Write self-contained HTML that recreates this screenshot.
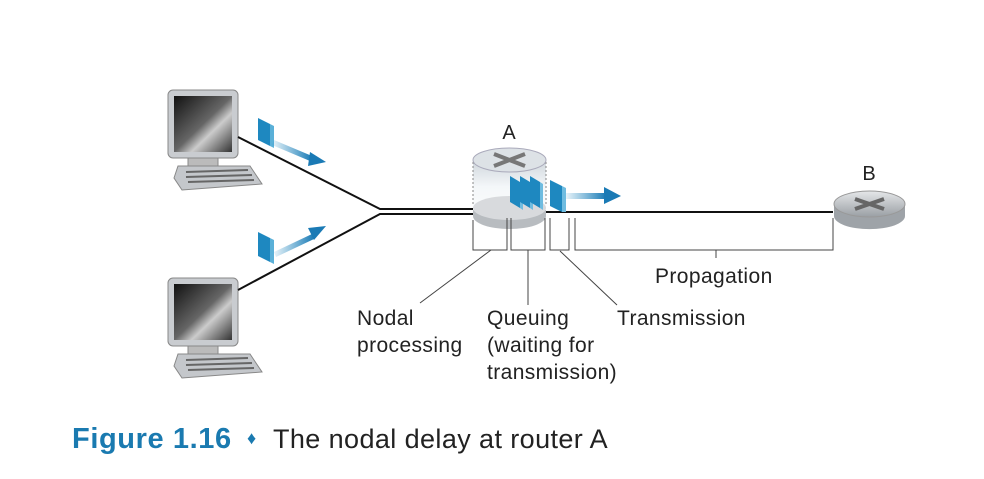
<!DOCTYPE html>
<html><head><meta charset="utf-8"><style>
html,body{margin:0;padding:0;background:#fff;}
svg{display:block}
text{font-family:"Liberation Sans",sans-serif;fill:#222;}
</style></head><body>
<svg width="984" height="479" viewBox="0 0 984 479" xmlns="http://www.w3.org/2000/svg">
<defs>
<linearGradient id="scr" x1="0" y1="0" x2="1" y2="1"><stop offset="0" stop-color="#111"/><stop offset="0.5" stop-color="#666"/><stop offset="0.65" stop-color="#ccc"/><stop offset="1" stop-color="#333"/></linearGradient>
<linearGradient id="arr" x1="0" y1="0" x2="1" y2="0"><stop offset="0" stop-color="#1e88c0" stop-opacity="0.1"/><stop offset="1" stop-color="#1a7ab5"/></linearGradient>
<linearGradient id="cyl" x1="0" y1="0" x2="0" y2="1"><stop offset="0" stop-color="#cfd6dc"/><stop offset="0.4" stop-color="#f4f7f9"/><stop offset="1" stop-color="#fff"/></linearGradient>
<linearGradient id="rb" x1="0" y1="0" x2="0" y2="1"><stop offset="0" stop-color="#e5e7e9"/><stop offset="1" stop-color="#9a9fa4"/></linearGradient>
<g id="pc">
<rect x="0" y="0" width="70" height="68" rx="5" fill="#c9ccd0" stroke="#888" stroke-width="1"/>
<rect x="6" y="6" width="58" height="56" fill="url(#scr)"/>
<rect x="20" y="68" width="30" height="8" fill="#bbb" stroke="#888"/>
<polygon points="10,76 82,76 94,94 14,100 6,88" fill="#c4c7cb" stroke="#888"/>
<line x1="18" y1="82" x2="80" y2="80" stroke="#666" stroke-width="2"/>
<line x1="18" y1="87" x2="84" y2="85" stroke="#666" stroke-width="2"/>
<line x1="20" y1="92" x2="86" y2="90" stroke="#666" stroke-width="2"/>
</g>
</defs>
<use href="#pc" x="168" y="90"/>
<use href="#pc" x="168" y="278"/>
<g stroke="#111" stroke-width="2" fill="none">
<polyline points="238,137 380,209 475,209"/>
<polyline points="238,290 380,214 475,214"/>
<line x1="546" y1="212" x2="833" y2="212"/>
</g>
<polygon points="258,118 270,124 270,146 258,140" fill="#1e88c0"/>
<polygon points="270,124 274,126 274,148 270,146" fill="#5ab0d8"/>
<polygon points="274,140 312,156 310,161 272,145" fill="url(#arr)"/>
<polygon points="310,152 326,162 308,166" fill="#1a7ab5"/>
<polygon points="258,232 270,238 270,262 258,256" fill="#1e88c0"/>
<polygon points="270,238 274,240 274,264 270,262" fill="#5ab0d8"/>
<polygon points="274,252 312,234 314,239 276,257" fill="url(#arr)"/>
<polygon points="308,228 326,226 314,240" fill="#1a7ab5"/>
<path d="M473,160 L473,213 A36.5,14 0 0 0 546,213 L546,160 Z" fill="url(#cyl)"/>
<line x1="473" y1="162" x2="473" y2="205" stroke="#888" stroke-dasharray="2,2"/>
<line x1="546" y1="162" x2="546" y2="205" stroke="#888" stroke-dasharray="2,2"/>
<ellipse cx="509.5" cy="160" rx="36.5" ry="12" fill="#dde2e6" stroke="#aab" stroke-width="1"/>
<path d="M494,154 L525,166 M525,154 L494,166" stroke="#777" stroke-width="4"/>
<path d="M473,210 L473,216 A36.5,13 0 0 0 546,216 L546,210" fill="#b8bcc0"/>
<ellipse cx="509.5" cy="208" rx="36.5" ry="12" fill="#d8dadd"/>
<g>
<polygon points="510,176 520,182 520,208 510,202" fill="#1e88c0"/><polygon points="520,182 523,184 523,210 520,208" fill="#6fbce0"/>
<polygon points="520,176 530,182 530,208 520,202" fill="#1e88c0"/><polygon points="530,182 533,184 533,210 530,208" fill="#6fbce0"/>
<polygon points="530,176 540,182 540,208 530,202" fill="#1e88c0"/><polygon points="540,182 543,184 543,210 540,208" fill="#6fbce0"/>
<polygon points="550,180 562,186 562,212 550,206" fill="#1e88c0"/><polygon points="562,186 566,188 566,212 562,212" fill="#6fbce0"/>
<rect x="566" y="193" width="40" height="6" fill="url(#arr)"/>
<polygon points="604,187 621,196 604,204" fill="#1a7ab5"/>
</g>
<path d="M834,205 L834,216 A35,13 0 0 0 905,216 L905,205 Z" fill="#9ea3a8"/>
<ellipse cx="869.5" cy="204" rx="35.5" ry="13" fill="url(#rb)" stroke="#999"/>
<path d="M855,199 L884,209 M884,199 L855,209" stroke="#666" stroke-width="4"/>
<g stroke="#444" stroke-width="1" fill="none">
<polyline points="473,220 473,250 507,250 507,218"/>
<polyline points="511,218 511,250 545,250 545,218"/>
<polyline points="550,218 550,250 569,250 569,218"/>
<polyline points="575,218 575,250 833,250 833,218"/>
<line x1="716" y1="250" x2="716" y2="258"/>
<line x1="491" y1="250" x2="420" y2="303"/>
<line x1="528" y1="250" x2="528" y2="305"/>
<line x1="560" y1="251" x2="617" y2="305"/>
</g>
<text x="509" y="139" font-size="20" text-anchor="middle">A</text>
<text x="869" y="180" font-size="20" text-anchor="middle">B</text>
<g font-size="21" letter-spacing="0.4">
<text x="655" y="283">Propagation</text>
<text x="357" y="325">Nodal</text>
<text x="357" y="352">processing</text>
<text x="487" y="325">Queuing</text>
<text x="487" y="352">(waiting for</text>
<text x="487" y="379">transmission)</text>
<text x="617" y="325">Transmission</text>
</g>
<text x="72" y="448" font-size="29" font-weight="bold" letter-spacing="0.6" style="fill:#1a7ab0">Figure 1.16</text>
<text x="247" y="444" font-size="18" style="fill:#1a7ab0">♦</text>
<text x="273" y="448" font-size="27" letter-spacing="0.4">The nodal delay at router A</text>
</svg>
</body></html>
